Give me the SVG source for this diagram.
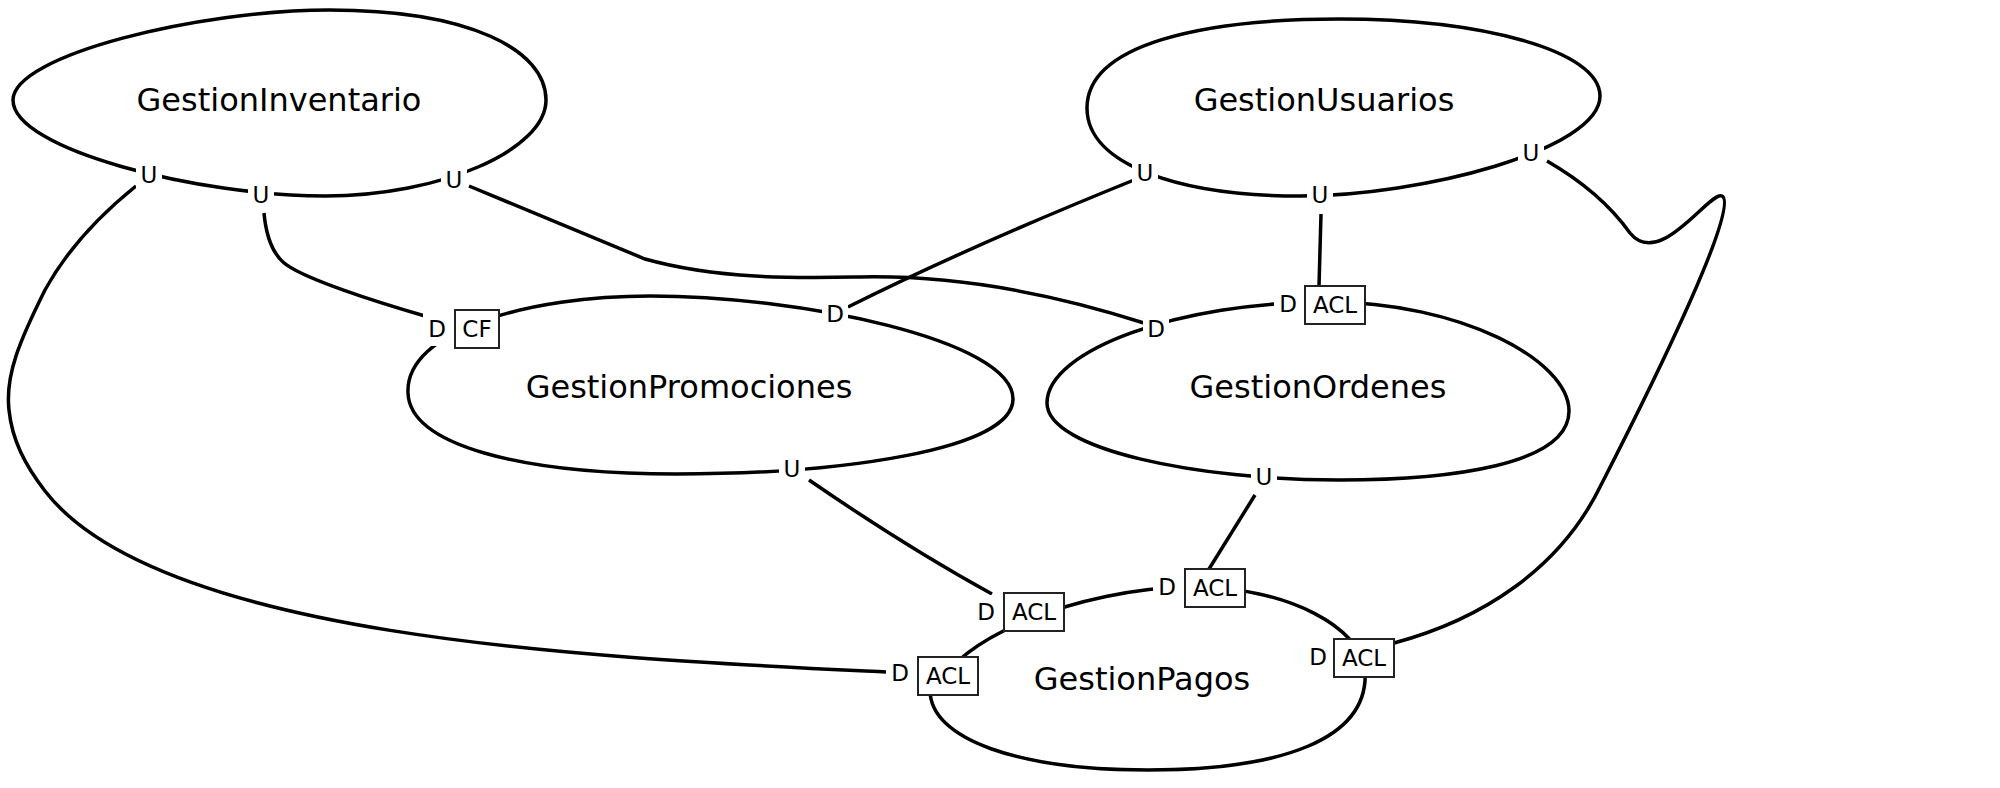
<svg xmlns="http://www.w3.org/2000/svg" width="2000" height="788" viewBox="0 0 2000 788">
<style>
.shape{fill:none;stroke:#000;stroke-width:3.5}
.conn{fill:none;stroke:#000;stroke-width:3.5}
.title{font-family:"DejaVu Sans",sans-serif;font-size:32px;fill:#000;text-anchor:middle}
.lbl{font-family:"DejaVu Sans",sans-serif;font-size:23px;fill:#000;text-anchor:middle}
.bg{fill:#fff;stroke:none}
.box{fill:#fff;stroke:#222;stroke-width:2}
</style>
<rect width="2000" height="788" fill="#fff"/>
<g id="connectors">
<path class="conn" d="M 136,186 C 100,215 68,248 45,290 C 20,340 5,375 9,410 C 12,440 25,465 45,491 C 160,640 600,658 886,672"/>
<path class="conn" d="M 264,213 C 266,235 272,252 283,262 C 300,278 380,303 425,316"/>
<path class="conn" d="M 469,186 L 645,259 C 720,280 800,278 860,277 C 960,275 1060,296 1144,323"/>
<path class="conn" d="M 1134,180 C 1030,222 930,266 848,307"/>
<path class="conn" d="M 1321,214 L 1319,286"/>
<path class="conn" d="M 1547,161 C 1580,180 1610,205 1630,233 C 1660,270 1710,190 1722,196 C 1740,205 1660,370 1601,485 C 1560,570 1480,620 1394,643"/>
<path class="conn" d="M 809,480 C 870,522 930,560 992,594"/>
<path class="conn" d="M 1255,495 L 1209,569"/>
</g>
<g id="GestionInventario">
<path class="shape" d="M 13,100 C 13,55 200,10 329,10 C 470,10 546,50 546,100 C 546,150 440,196 325,196 C 200,196 13,150 13,100 Z"/>
<text class="title" x="279" y="111">GestionInventario</text>
<rect class="bg" x="136" y="161" width="26" height="28"/><text class="lbl" x="149" y="183">U</text>
<rect class="bg" x="248" y="181" width="26" height="28"/><text class="lbl" x="261" y="203">U</text>
<rect class="bg" x="441" y="166" width="26" height="28"/><text class="lbl" x="454" y="188">U</text>
</g>
<g id="GestionUsuarios">
<path class="shape" d="M 1087,108 C 1087,45 1200,19 1339,19 C 1480,19 1600,50 1600,96 C 1600,150 1420,196 1300,196 C 1180,196 1087,165 1087,108 Z"/>
<text class="title" x="1324" y="111">GestionUsuarios</text>
<rect class="bg" x="1132" y="159" width="26" height="28"/><text class="lbl" x="1145" y="181">U</text>
<rect class="bg" x="1307" y="181" width="26" height="28"/><text class="lbl" x="1320" y="203">U</text>
<rect class="bg" x="1518" y="139" width="26" height="28"/><text class="lbl" x="1531" y="161">U</text>
</g>
<g id="GestionPromociones">
<path class="shape" d="M 408,393 C 405,330 530,296 650,296 C 800,296 1013,340 1013,399 C 1013,450 840,474 676,474 C 520,474 410,445 408,393 Z"/>
<text class="title" x="689" y="398">GestionPromociones</text>
<rect class="bg" x="779" y="455" width="26" height="28"/><text class="lbl" x="792" y="477">U</text>
<rect class="bg" x="822" y="300" width="26" height="28"/><text class="lbl" x="835" y="322">D</text>
<rect class="bg" x="423" y="312" width="32" height="34"/><text class="lbl" x="437" y="337">D</text>
<rect class="box" x="455" y="310" width="44" height="38"/><text class="lbl" x="477" y="337">CF</text>
</g>
<g id="GestionOrdenes">
<path class="shape" d="M 1047,403 C 1047,350 1180,302 1327,302 C 1460,302 1569,360 1569,411 C 1569,465 1450,480 1339,480 C 1200,480 1047,450 1047,403 Z"/>
<text class="title" x="1318" y="398">GestionOrdenes</text>
<rect class="bg" x="1143" y="315" width="26" height="28"/><text class="lbl" x="1156" y="337">D</text>
<rect class="bg" x="1251" y="463" width="26" height="28"/><text class="lbl" x="1264" y="485">U</text>
<rect class="bg" x="1274" y="287" width="32" height="34"/><text class="lbl" x="1288" y="312">D</text>
<rect class="box" x="1305" y="286" width="60" height="38"/><text class="lbl" x="1335" y="313">ACL</text>
</g>
<g id="GestionPagos">
<path class="shape" d="M 940,690 C 950,640 1080,588 1190,587 C 1290,586 1362,630 1365,670 C 1370,740 1280,770 1148,770 C 1020,770 930,740 930,690 Z"/>
<text class="title" x="1142" y="690">GestionPagos</text>
<rect class="bg" x="972" y="595" width="32" height="34"/><text class="lbl" x="986" y="620">D</text>
<rect class="box" x="1004" y="593" width="60" height="38"/><text class="lbl" x="1034" y="620">ACL</text>
<rect class="bg" x="1153" y="570" width="32" height="34"/><text class="lbl" x="1167" y="595">D</text>
<rect class="box" x="1185" y="569" width="60" height="38"/><text class="lbl" x="1215" y="596">ACL</text>
<rect class="bg" x="1303" y="640" width="31" height="34"/><text class="lbl" x="1318" y="665">D</text>
<rect class="box" x="1334" y="639" width="60" height="38"/><text class="lbl" x="1364" y="666">ACL</text>
<rect class="bg" x="886" y="656" width="32" height="34"/><text class="lbl" x="900" y="681">D</text>
<rect class="box" x="918" y="657" width="60" height="38"/><text class="lbl" x="948" y="684">ACL</text>
</g>
</svg>
